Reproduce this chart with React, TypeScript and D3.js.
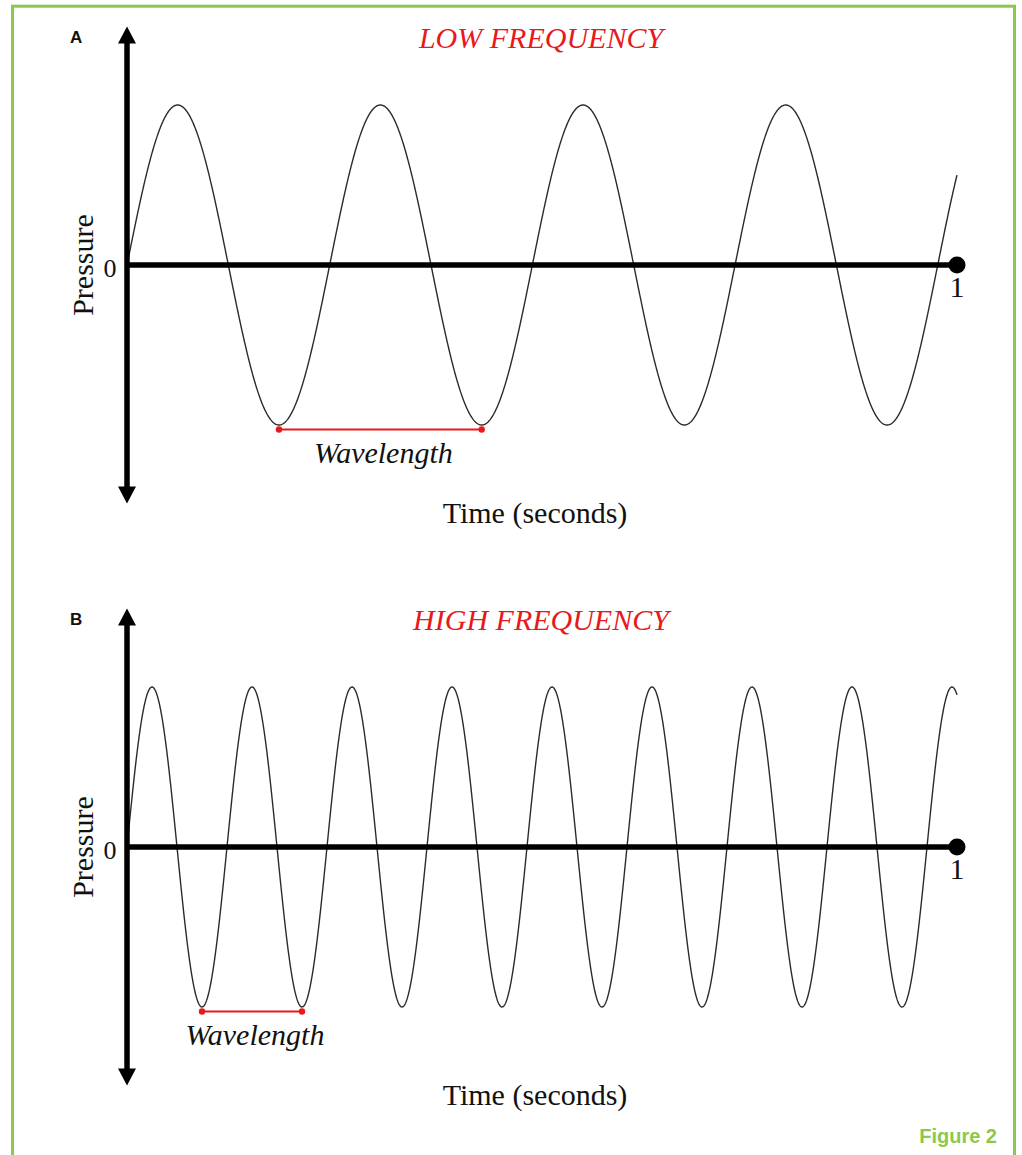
import * as d3 from 'd3'

// panel content
const PANEL_IDS = ['A', 'B']
const PANEL_TITLES = ['LOW FREQUENCY', 'HIGH FREQUENCY']
const CYCLES_PER_SECOND = [4.095, 8.3] // ~4.1 and ~8.3 cycles over 1 s
const TIME_TICKS = [0, 1]
const X_LABEL = 'Time (seconds)'
const Y_LABEL = 'Pressure'
const MARKER_LABEL = 'Wavelength'
const FIGURE_LABEL = 'Figure 2'

const W = 1022
const H = 1155
const PANEL_SHIFT = 582
const SERIF = '"Liberation Serif", "Times New Roman", serif'
const SANS = '"Liberation Sans", Arial, sans-serif'
const GREEN = '#8cc84b'
const RED = '#e8191b'

const x = d3.scaleLinear().domain([0, 1]).range([127, 957])
const y = d3.scaleLinear().domain([-1, 1]).range([425, 105])

function Panel({ index }: { index: number }) {
  const f = CYCLES_PER_SECOND[index]
  const samples = d3.range(0, 1.0005, 0.0005).map((t) => [t, Math.sin(2 * Math.PI * f * t)] as [number, number])
  const line = d3.line<[number, number]>().x((d) => x(d[0])).y((d) => y(d[1]))

  // first full trough-to-trough span
  const t1 = 0.75 / f
  const t2 = 1.75 / f
  const markY = y(-1) + 4.5
  const markMid = (x(t1) + x(t2)) / 2

  const x0 = x(TIME_TICKS[0])
  const x1 = x(TIME_TICKS[1])
  const yTop = y(1.49)
  const yBot = y(-1.49)
  const y0 = y(0)

  return (
    <g transform={`translate(0,${index * PANEL_SHIFT})`}>
      <text x={70} y={43} fontFamily={SANS} fontWeight={700} fontSize={17} fill="#111">
        {PANEL_IDS[index]}
      </text>
      <text x={541} y={48} textAnchor="middle" fontFamily={SERIF} fontStyle="italic" fontSize={30} fill={RED}>
        {PANEL_TITLES[index]}
      </text>

      {/* wave */}
      <path d={line(samples) ?? ''} fill="none" stroke="#2b2b2b" strokeWidth={1.4} />

      {/* vertical axis with arrows */}
      <line x1={x0} x2={x0} y1={yTop + 12} y2={yBot - 12} stroke="#000" strokeWidth={5.5} />
      <path d={`M${x0},${yTop} L${x0 - 9},${yTop + 17} L${x0 + 9},${yTop + 17} Z`} fill="#000" />
      <path d={`M${x0},${yBot} L${x0 - 9},${yBot - 17} L${x0 + 9},${yBot - 17} Z`} fill="#000" />

      {/* horizontal axis */}
      <line x1={x0} x2={x1} y1={y0} y2={y0} stroke="#000" strokeWidth={5.5} />
      <circle cx={x1} cy={y0} r={8.5} fill="#000" />
      <text x={x1} y={y0 + 32} textAnchor="middle" fontFamily={SERIF} fontSize={30} fill="#111">
        {TIME_TICKS[1]}
      </text>
      <text x={110} y={y0 + 12} textAnchor="middle" fontFamily={SERIF} fontSize={26} fill="#111">
        {TIME_TICKS[0]}
      </text>

      <text
        transform={`translate(93,${y0}) rotate(-90)`}
        textAnchor="middle"
        fontFamily={SERIF}
        fontSize={30}
        fill="#111"
      >
        {Y_LABEL}
      </text>
      <text x={535} y={523} textAnchor="middle" fontFamily={SERIF} fontSize={30} fill="#111">
        {X_LABEL}
      </text>

      {/* wavelength marker */}
      <line x1={x(t1)} x2={x(t2)} y1={markY} y2={markY} stroke={RED} strokeWidth={2.2} />
      <circle cx={x(t1)} cy={markY} r={3.2} fill={RED} />
      <circle cx={x(t2)} cy={markY} r={3.2} fill={RED} />
      <text x={markMid + 3} y={markY + 33} textAnchor="middle" fontFamily={SERIF} fontStyle="italic" fontSize={30} fill="#111">
        {MARKER_LABEL}
      </text>
    </g>
  )
}

export default function App() {
  return (
    <svg
      width={W}
      height={H}
      viewBox={`0 0 ${W} ${H}`}
      style={{ position: 'absolute', left: 0, top: 0, background: '#fff' }}
    >
      <rect x={12.5} y={6.2} width={1002} height={H + 20} fill="none" stroke={GREEN} strokeWidth={3} />
      {PANEL_IDS.map((id, i) => (
        <Panel key={id} index={i} />
      ))}
      <text x={997} y={1143} textAnchor="end" fontFamily={SANS} fontWeight={700} fontSize={20} fill={GREEN}>
        {FIGURE_LABEL}
      </text>
    </svg>
  )
}
